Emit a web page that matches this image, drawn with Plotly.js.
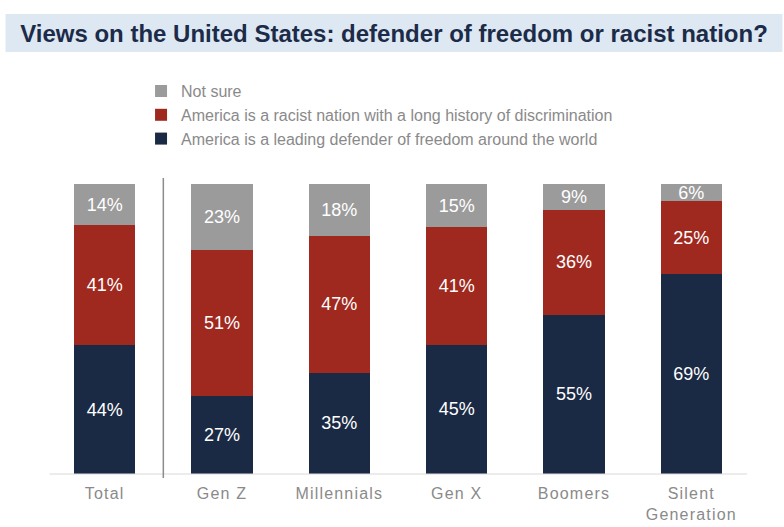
<!DOCTYPE html>
<html><head><meta charset="utf-8">
<script src="https://cdn.plot.ly/plotly-3.0.1.min.js"></script>
<style>body{margin:0;background:#fff}#c{width:784px;height:527px}
#c .xtick text{letter-spacing:1.2px}</style>
</head><body><div id="c"></div>
<script>
const categories = ["Total", "Gen Z", "Millennials", "Gen X", "Boomers", "Silent<br>Generation"];
const defender = [44, 27, 35, 45, 55, 69];
const racist = [41, 51, 47, 41, 36, 25];
const notSure = [14, 23, 18, 15, 9, 6];
const seriesNames = ["America is a leading defender of freedom around the world",
  "America is a racist nation with a long history of discrimination", "Not sure"];
const colors = ["#1b2a44", "#a0291f", "#9b9b9b"];

const vals = [defender, racist, notSure];
const traces = vals.map((v, i) => ({
  type: "bar", x: categories, y: v, name: seriesNames[i],
  marker: {color: colors[i]}, width: 0.52,
  text: v.map(n => n + "%"), textposition: "inside", insidetextanchor: "middle",
  textangle: 0,
  textfont: {family: "Arial, Liberation Sans, sans-serif", size: 18, color: "#ffffff"},
  hoverinfo: "none"
}));

const layout = {
  width: 784, height: 527,
  margin: {l: 46, r: 34, t: 184, b: 53},
  barmode: "stack", barnorm: "percent",
  uniformtext: {minsize: 18, mode: "show"},
  paper_bgcolor: "#fff", plot_bgcolor: "#fff",
  showlegend: true,
  legend: {traceorder: "reversed", x: 0.135, y: 1.379, xanchor: "left", yanchor: "top",
    font: {family: "Arial, Liberation Sans, sans-serif", size: 16, color: "#8a8a8a"},
    itemwidth: 10, bgcolor: "rgba(0,0,0,0)"},
  title: {text: "<b>Views on the United States: defender of freedom or racist nation?</b>",
    x: 394/784, xref: "container", xanchor: "center", y: 1 - 34/527, yref: "container", yanchor: "middle",
    font: {family: "Arial, Liberation Sans, sans-serif", size: 24, color: "#1c2b48"}},
  xaxis: {type: "category", range: [-0.5, 5.5], showgrid: false, zeroline: false, showline: false,
    ticks: "", ticklabelstandoff: 8,
    tickfont: {family: "Arial, Liberation Sans, sans-serif", size: 16, color: "#8a8a8a"},
    fixedrange: true},
  yaxis: {range: [0, 100], visible: false, fixedrange: true},
  shapes: [
    {type: "rect", xref: "paper", yref: "paper", x0: -0.0575, x1: 1.046, y0: 1.455, y1: 1.586,
      fillcolor: "#dde8f3", line: {width: 0}, layer: "below"},
    {type: "line", xref: "paper", yref: "paper", x0: 0.005, x1: 0.996, y0: 0, y1: 0,
      line: {color: "#d9d9d9", width: 1}},
    {type: "line", xref: "x", yref: "paper", x0: 0.5, x1: 0.5, y0: -0.014, y1: 1.021,
      line: {color: "#8c8c8c", width: 1.5}}
  ]
};
Plotly.newPlot("c", traces, layout, {displayModeBar: false, staticPlot: true});
</script></body></html>
